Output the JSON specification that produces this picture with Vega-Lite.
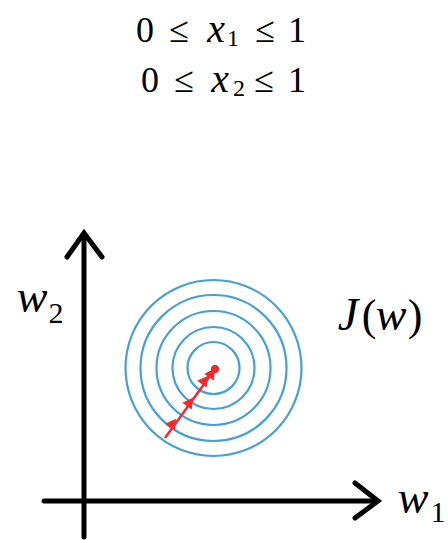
{
  "$schema": "https://vega.github.io/schema/vega-lite/v6.json",
  "width": 448,
  "height": 540,
  "padding": 0,
  "autosize": {"type": "none"},
  "background": "white",
  "config": {"view": {"stroke": null}},
  "datasets": {
    "contours": [
      {"level": 1, "r": 88, "w1": 129.5, "w2": 133},
      {"level": 2, "r": 73, "w1": 129.5, "w2": 133},
      {"level": 3, "r": 57, "w1": 129.5, "w2": 133},
      {"level": 4, "r": 41, "w1": 129.5, "w2": 133},
      {"level": 5, "r": 26, "w1": 129.5, "w2": 133}
    ],
    "axes": [
      {"path": "w2 axis", "order": 1, "w1": 0, "w2": -36},
      {"path": "w2 axis", "order": 2, "w1": 0, "w2": 265},
      {"path": "w1 axis", "order": 1, "w1": -40, "w2": 0},
      {"path": "w1 axis", "order": 2, "w1": 291, "w2": 0},
      {"path": "w2 head", "order": 1, "w1": -17, "w2": 244},
      {"path": "w2 head", "order": 2, "w1": 0, "w2": 268},
      {"path": "w2 head", "order": 3, "w1": 18, "w2": 244},
      {"path": "w1 head", "order": 1, "w1": 271, "w2": 18},
      {"path": "w1 head", "order": 2, "w1": 294, "w2": 0},
      {"path": "w1 head", "order": 3, "w1": 271, "w2": -17}
    ],
    "descent": [
      {"step": 0, "w1": 81, "w2": 63},
      {"step": 4, "w1": 131, "w2": 132}
    ],
    "descentHeads": [
      {"step": 1, "w1": 89, "w2": 78},
      {"step": 2, "w1": 106, "w2": 99},
      {"step": 3, "w1": 121, "w2": 121},
      {"step": 4, "w1": 128, "w2": 128}
    ],
    "descentEnd": [
      {"step": 4, "w1": 131, "w2": 132}
    ],
    "formulaText": [
      {"t": "0", "w1": 61, "w2": 459},
      {"t": "≤", "w1": 95, "w2": 459},
      {"t": "≤", "w1": 181, "w2": 459},
      {"t": "1", "w1": 213, "w2": 459},
      {"t": "0", "w1": 66, "w2": 409},
      {"t": "≤", "w1": 100, "w2": 409},
      {"t": "≤", "w1": 180, "w2": 409},
      {"t": "1", "w1": 213, "w2": 409}
    ],
    "formulaVar": [
      {"t": "x", "w1": 132, "w2": 459},
      {"t": "x", "w1": 136, "w2": 409}
    ],
    "formulaSub": [
      {"t": "1", "w1": 149, "w2": 455},
      {"t": "2", "w1": 155, "w2": 405}
    ],
    "labelVar": [
      {"t": "w", "w1": -52, "w2": 189},
      {"t": "w", "w1": 329, "w2": -12},
      {"t": "J", "w1": 264, "w2": 171},
      {"t": "w", "w1": 307, "w2": 171}
    ],
    "labelSub": [
      {"t": "2", "w1": -28, "w2": 178},
      {"t": "1", "w1": 354, "w2": -21}
    ],
    "labelParen": [
      {"t": "(", "w1": 285, "w2": 171},
      {"t": ")", "w1": 331, "w2": 171}
    ]
  },
  "encoding": {
    "x": {"field": "w1", "type": "quantitative", "scale": {"domain": [-84, 364], "nice": false, "zero": false}, "axis": null},
    "y": {"field": "w2", "type": "quantitative", "scale": {"domain": [-39, 501], "nice": false, "zero": false}, "axis": null}
  },
  "layer": [
    {
      "data": {"name": "contours"},
      "mark": {"type": "arc", "filled": false, "stroke": "#45a0d8", "strokeWidth": 2.2, "theta": 0, "theta2": 6.2832},
      "encoding": {
        "radius": {"field": "r", "type": "quantitative", "scale": null, "stack": null},
        "detail": {"field": "level", "type": "nominal"}
      }
    },
    {
      "data": {"name": "axes"},
      "mark": {"type": "line", "color": "black", "strokeWidth": 5, "strokeCap": "round", "strokeJoin": "miter"},
      "encoding": {
        "detail": {"field": "path", "type": "nominal"},
        "order": {"field": "order", "type": "quantitative"}
      }
    },
    {
      "data": {"name": "descent"},
      "mark": {"type": "line", "color": "#f42a2a", "strokeWidth": 2.5},
      "encoding": {"order": {"field": "step", "type": "quantitative"}}
    },
    {
      "data": {"name": "descentHeads"},
      "mark": {"type": "point", "shape": "triangle-up", "filled": true, "color": "#f42a2a", "opacity": 1, "size": 140, "angle": 36},
      "encoding": {}
    },
    {
      "data": {"name": "descentEnd"},
      "mark": {"type": "point", "shape": "circle", "filled": true, "color": "#f42a2a", "opacity": 1, "size": 70},
      "encoding": {}
    },
    {
      "data": {"name": "formulaText"},
      "mark": {"type": "text", "font": "serif", "fontSize": 36, "align": "center", "baseline": "alphabetic", "color": "black"},
      "encoding": {"text": {"field": "t"}}
    },
    {
      "data": {"name": "formulaVar"},
      "mark": {"type": "text", "font": "serif", "fontStyle": "italic", "fontSize": 40, "align": "center", "baseline": "alphabetic", "color": "black"},
      "encoding": {"text": {"field": "t"}}
    },
    {
      "data": {"name": "formulaSub"},
      "mark": {"type": "text", "font": "serif", "fontSize": 24, "align": "center", "baseline": "alphabetic", "color": "black"},
      "encoding": {"text": {"field": "t"}}
    },
    {
      "data": {"name": "labelVar"},
      "mark": {"type": "text", "font": "serif", "fontStyle": "italic", "fontSize": 46, "align": "center", "baseline": "alphabetic", "color": "black"},
      "encoding": {"text": {"field": "t"}}
    },
    {
      "data": {"name": "labelSub"},
      "mark": {"type": "text", "font": "serif", "fontSize": 30, "align": "center", "baseline": "alphabetic", "color": "black"},
      "encoding": {"text": {"field": "t"}}
    },
    {
      "data": {"name": "labelParen"},
      "mark": {"type": "text", "font": "serif", "fontSize": 44, "align": "center", "baseline": "alphabetic", "color": "black"},
      "encoding": {"text": {"field": "t"}}
    }
  ]
}
